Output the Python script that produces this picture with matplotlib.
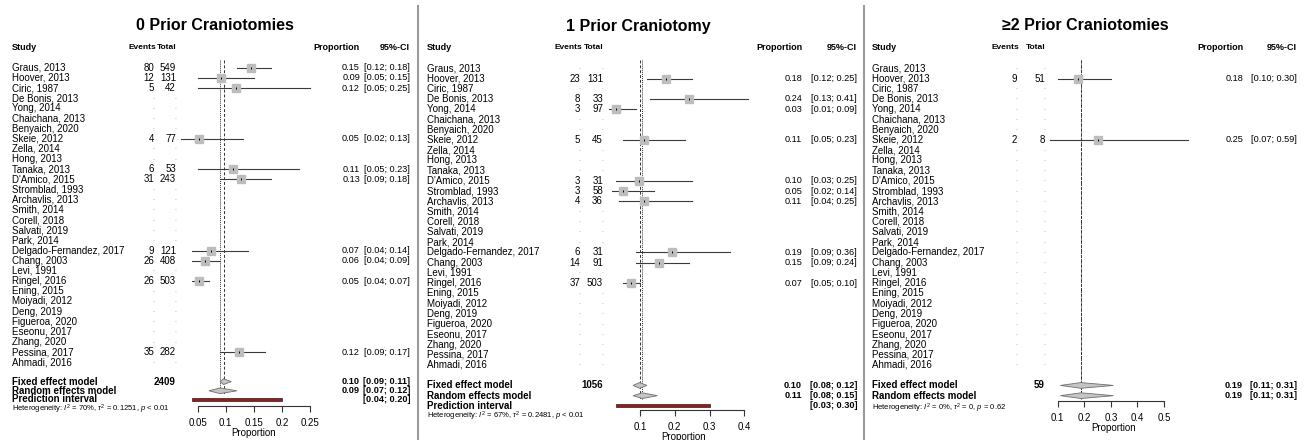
import matplotlib
matplotlib.use("Agg")
import matplotlib.pyplot as plt
from matplotlib.transforms import blended_transform_factory
from matplotlib.patches import Polygon, Rectangle
from matplotlib.lines import Line2D

plt.rcParams["font.family"] = ["Liberation Sans", "DejaVu Sans"]
plt.rcParams["mathtext.fontset"] = "custom"
plt.rcParams["mathtext.rm"] = "Liberation Sans"
plt.rcParams["mathtext.it"] = "Liberation Sans:italic"

# Datos
studies = ["Graus, 2013", "Hoover, 2013", "Ciric, 1987", "De Bonis, 2013", "Yong, 2014",
           "Chaichana, 2013", "Benyaich, 2020", "Skeie, 2012", "Zella, 2014", "Hong, 2013",
           "Tanaka, 2013", "D'Amico, 2015", "Stromblad, 1993", "Archavlis, 2013", "Smith, 2014",
           "Corell, 2018", "Salvati, 2019", "Park, 2014", "Delgado-Fernandez, 2017", "Chang, 2003",
           "Levi, 1991", "Ringel, 2016", "Ening, 2015", "Moiyadi, 2012", "Deng, 2019",
           "Figueroa, 2020", "Eseonu, 2017", "Zhang, 2020", "Pessina, 2017", "Ahmadi, 2016"]

# 0 craneotomias previas
p0_names = ["Graus, 2013", "Hoover, 2013", "Ciric, 1987", "Skeie, 2012", "Tanaka, 2013",
            "D'Amico, 2015", "Delgado-Fernandez, 2017", "Chang, 2003", "Ringel, 2016", "Pessina, 2017"]
p0_events = [80, 12, 5, 4, 6, 31, 9, 26, 26, 35]
p0_total = [549, 131, 42, 77, 53, 243, 121, 408, 503, 282]
p0_lo = [0.12, 0.05, 0.05, 0.02, 0.05, 0.09, 0.04, 0.04, 0.04, 0.09]
p0_hi = [0.18, 0.15, 0.25, 0.13, 0.23, 0.18, 0.14, 0.09, 0.07, 0.17]

# 1 craneotomia previa
p1_names = ["Hoover, 2013", "De Bonis, 2013", "Yong, 2014", "Skeie, 2012", "D'Amico, 2015",
            "Stromblad, 1993", "Archavlis, 2013", "Delgado-Fernandez, 2017", "Chang, 2003", "Ringel, 2016"]
p1_events = [23, 8, 3, 5, 3, 3, 4, 6, 14, 37]
p1_total = [131, 33, 97, 45, 31, 58, 36, 31, 91, 503]
p1_lo = [0.12, 0.13, 0.01, 0.05, 0.03, 0.02, 0.04, 0.09, 0.09, 0.05]
p1_hi = [0.25, 0.41, 0.09, 0.23, 0.25, 0.14, 0.25, 0.36, 0.24, 0.10]

# >=2 craneotomias previas
p2_names = ["Hoover, 2013", "Skeie, 2012"]
p2_events = [9, 2]
p2_total = [51, 8]
p2_lo = [0.10, 0.07]
p2_hi = [0.30, 0.59]

titles = ["0 Prior Craniotomies", "1 Prior Craniotomy", "\u22652 Prior Craniotomies"]
fixed_est = [0.096, 0.099, 0.188]
fixed_lo = [0.09, 0.08, 0.11]
fixed_hi = [0.11, 0.12, 0.31]
random_est = [0.090, 0.107, 0.188]
random_lo = [0.07, 0.08, 0.11]
random_hi = [0.12, 0.15, 0.31]
pred_lo = [0.04, 0.03, None]
pred_hi = [0.20, 0.30, None]
het_text = [r"Heterogeneity: $I^2$ = 70%, $\tau^2$ = 0.1251, $p$ < 0.01",
            r"Heterogeneity: $I^2$ = 67%, $\tau^2$ = 0.2481, $p$ < 0.01",
            r"Heterogeneity: $I^2$ = 0%, $\tau^2$ = 0, $p$ = 0.62"]

# Posiciones (pixeles de la figura) de cada panel
layouts = [
    dict(study_x=12, ev_x=154, tot_x=176, prop_x=360, ci_x=410, title_x=215,
         px0=169.6, ppu=561.5, xmax=0.30, ticks=[0.05, 0.1, 0.15, 0.2, 0.25],
         y0=67.7, pitch=10.16, axis_px=406, rows=(30.9, 31.8, 32.65, 33.6)),
    dict(study_x=427, ev_x=580, tot_x=603, prop_x=802, ci_x=857, title_x=638,
         px0=605.2, ppu=347.7, xmax=0.45, ticks=[0.1, 0.2, 0.3, 0.4],
         y0=68.3, pitch=10.23, axis_px=410, rows=(31, 32, 33, 34)),
    dict(study_x=872, ev_x=1017, tot_x=1045, prop_x=1243, ci_x=1297, title_x=1085,
         px0=1031.1, ppu=265.75, xmax=0.62, ticks=[0.1, 0.2, 0.3, 0.4, 0.5],
         y0=68.3, pitch=10.23, axis_px=401, rows=(31, 32, None, 33.2)),
]

W, H = 1309, 440
fig = plt.figure(figsize=(W / 100, H / 100), dpi=100)
FS = 7.0      # etiquetas de estudio
FSN = 6.6     # columnas numericas


def diamond(ax, est, lo, hi, y, h=0.28):
    ax.add_patch(Polygon([(lo, y), (est, y - h), (hi, y), (est, y + h)], closed=True,
                         facecolor="#C4C4C4", edgecolor="#707070", lw=0.6, zorder=3))


def draw_panel(k, names, events, total, lo, hi):
    L = layouts[k]
    top_row = -1.0
    bottom_row = (L["axis_px"] - L["y0"]) / L["pitch"]
    top_px = L["y0"] + top_row * L["pitch"]
    left_px = L["px0"]
    right_px = L["px0"] + L["ppu"] * L["xmax"]
    ax = fig.add_axes([left_px / W, 1 - L["axis_px"] / H,
                       (right_px - left_px) / W, (L["axis_px"] - top_px) / H])
    ax.set_facecolor("none")
    ax.set_xlim(0, L["xmax"])
    ax.set_ylim(bottom_row, top_row)
    for s in ["left", "top", "right"]:
        ax.spines[s].set_visible(False)
    ax.spines["bottom"].set_bounds(L["ticks"][0], L["ticks"][-1])
    ax.spines["bottom"].set_linewidth(0.8)
    ax.spines["bottom"].set_color("#333333")
    ax.set_yticks([])
    ax.set_xticks(L["ticks"])
    ax.set_xticklabels([f"{t:g}" for t in L["ticks"]], fontsize=FS)
    ax.tick_params(axis="x", length=4, width=0.8, color="#333333", pad=4.5)
    ax.set_xlabel("Proportion", fontsize=FS, labelpad=0)

    tr = blended_transform_factory(fig.transFigure, ax.transData)
    fx = lambda px: px / W

    # Titulo y encabezados
    fig.text(fx(L["title_x"]), 1 - 26 / H, titles[k], fontsize=11.5, fontweight="bold",
             ha="center", va="center")
    hdr = dict(fontsize=6.5, fontweight="bold", va="center", transform=tr)
    hdr_s = dict(fontsize=6.0, fontweight="bold", va="center", transform=tr)
    ax.text(fx(L["study_x"]), -2, "Study", ha="left", **hdr)
    ax.text(fx(L["ev_x"] + 2), -2, "Events", ha="right", **hdr_s)
    ax.text(fx(L["tot_x"]), -2, "Total", ha="right", **hdr_s)
    ax.text(fx(L["prop_x"]), -2, "Proportion", ha="right", **hdr)
    ax.text(fx(L["ci_x"]), -2, "95%-CI", ha="right", **hdr)

    # Estudios
    for i, st in enumerate(studies):
        ax.text(fx(L["study_x"]), i, st, fontsize=FS, ha="left", va="center", transform=tr)
        if st in names:
            j = names.index(st)
            p = events[j] / total[j]
            ax.text(fx(L["ev_x"]), i, str(events[j]), fontsize=FS, ha="right", va="center", transform=tr)
            ax.text(fx(L["tot_x"]), i, str(total[j]), fontsize=FS, ha="right", va="center", transform=tr)
            ax.text(fx(L["prop_x"]), i, f"{p:.2f}", fontsize=FSN, ha="right", va="center", transform=tr)
            ax.text(fx(L["ci_x"]), i, f"[{lo[j]:.2f}; {hi[j]:.2f}]", fontsize=FSN, ha="right",
                    va="center", transform=tr)
            ax.plot([lo[j], hi[j]], [i, i], color="#3a3a3a", lw=0.8, zorder=2)
            ax.plot(p, i, marker="s", ms=5.4, color="#BDBDBD", mec="#BDBDBD", zorder=3)
            ax.plot(p, i, marker="|", ms=2, mew=0.7, color="black", zorder=4)
        else:
            ax.text(fx(L["ev_x"]), i - 0.1, ".", fontsize=5, color="#888888", ha="right",
                    va="center", transform=tr)
            ax.text(fx(L["tot_x"]), i - 0.1, ".", fontsize=5, color="#888888", ha="right",
                    va="center", transform=tr)

    r_fix, r_ran, r_pred, r_het = L["rows"]
    # Lineas verticales de los modelos
    ax.vlines(fixed_est[k], -0.8, r_ran + 0.3, colors="#333333", linestyles=(0, (3, 2)), lw=0.7, zorder=1)
    ax.vlines(random_est[k], -0.8, r_ran + 0.3, colors="#333333", linestyles=(0, (1, 1)), lw=0.7, zorder=1)

    bold = dict(fontsize=FS, fontweight="bold", va="center", transform=tr)
    boldn = dict(fontsize=FSN, fontweight="bold", va="center", transform=tr)
    ax.text(fx(L["study_x"]), r_fix, "Fixed effect model", ha="left", **bold)
    ax.text(fx(L["tot_x"]), r_fix, str(sum(total)), ha="right", **bold)
    ax.text(fx(L["prop_x"]), r_fix, f"{fixed_est[k]:.2f}", ha="right", **boldn)
    ax.text(fx(L["ci_x"]), r_fix, f"[{fixed_lo[k]:.2f}; {fixed_hi[k]:.2f}]", ha="right", **boldn)
    diamond(ax, fixed_est[k], fixed_lo[k], fixed_hi[k], r_fix)

    ax.text(fx(L["study_x"]), r_ran, "Random effects model", ha="left", **bold)
    ax.text(fx(L["prop_x"]), r_ran, f"{random_est[k]:.2f}", ha="right", **boldn)
    ax.text(fx(L["ci_x"]), r_ran, f"[{random_lo[k]:.2f}; {random_hi[k]:.2f}]", ha="right", **boldn)
    diamond(ax, random_est[k], random_lo[k], random_hi[k], r_ran)

    if pred_lo[k] is not None:
        ax.text(fx(L["study_x"]), r_pred, "Prediction interval", ha="left", **bold)
        ax.text(fx(L["ci_x"]), r_pred, f"[{pred_lo[k]:.2f}; {pred_hi[k]:.2f}]", ha="right", **boldn)
        ax.add_patch(Rectangle((pred_lo[k], r_pred - 0.14), pred_hi[k] - pred_lo[k], 0.28,
                               facecolor="#A31515", edgecolor="#222222", lw=0.5, zorder=3))

    ax.text(fx(L["study_x"]), r_het, het_text[k], fontsize=5.5, ha="left", va="center", transform=tr)


draw_panel(0, p0_names, p0_events, p0_total, p0_lo, p0_hi)
draw_panel(1, p1_names, p1_events, p1_total, p1_lo, p1_hi)
draw_panel(2, p2_names, p2_events, p2_total, p2_lo, p2_hi)

# Separadores entre paneles
for xs in [418, 864]:
    fig.add_artist(Line2D([xs / W, xs / W], [0, 1 - 6 / H], color="#9a9a9a", lw=1.5))

plt.savefig("out.png", dpi=100)
